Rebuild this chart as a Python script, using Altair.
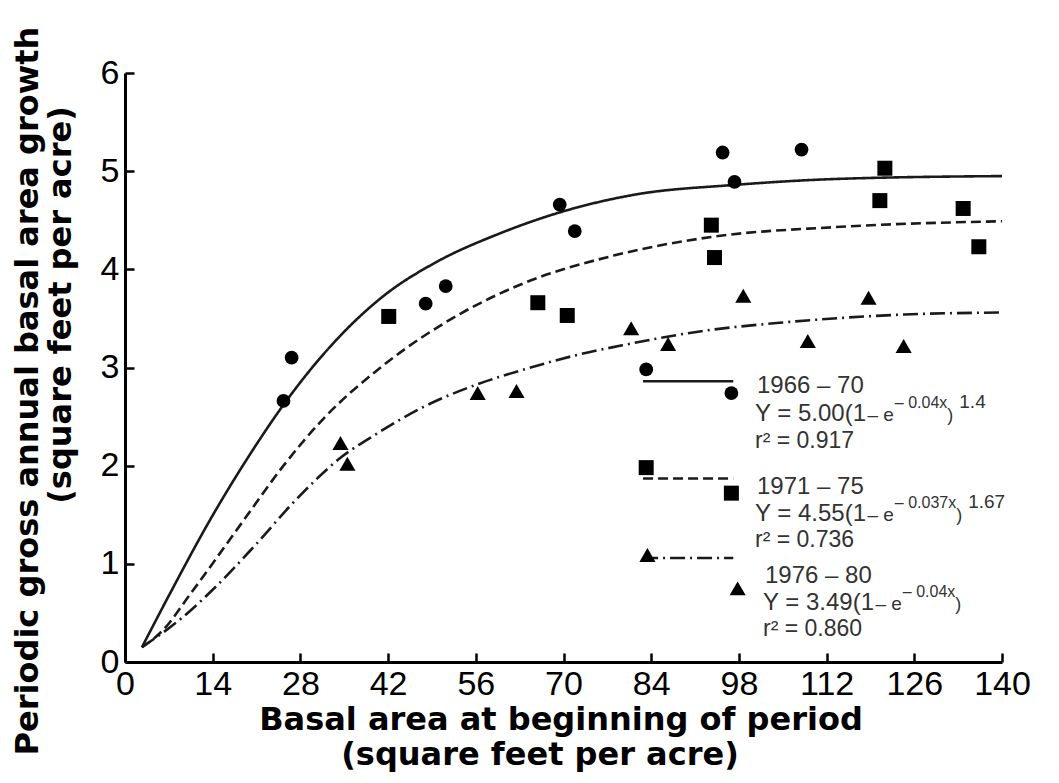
import altair as alt
import pandas as pd

# ---------------- data ----------------
periods = ["1966 – 70", "1971 – 75", "1976 – 80"]

circ_x = [25.3, 26.6, 48.0, 51.2, 69.4, 71.8, 95.4, 97.3, 108.0]
circ_y = [2.66, 3.10, 3.65, 3.83, 4.66, 4.39, 5.19, 4.89, 5.22]
sq_x = [42.1, 65.9, 70.6, 93.6, 94.1, 120.5, 121.3, 133.8, 136.3]
sq_y = [3.52, 3.66, 3.53, 4.45, 4.12, 4.70, 5.03, 4.62, 4.23]
tri_x = [34.4, 35.5, 56.3, 62.5, 80.8, 86.7, 98.7, 109.0, 118.7, 124.3]
tri_y = [2.23, 2.02, 2.74, 2.76, 3.40, 3.24, 3.73, 3.27, 3.71, 3.22]

curve1_x = [2.7, 7.2, 13.6, 20.0, 25.3, 31.2, 41.9, 49.3, 60.0, 69.4, 81.3, 97.3, 113.3, 140.0]
curve1_y = [0.15, 0.70, 1.45, 2.12, 2.62, 3.10, 3.76, 4.06, 4.37, 4.58, 4.76, 4.86, 4.92, 4.95]
curve2_x = [2.7, 6.0, 10.4, 18.9, 25.3, 31.7, 40.8, 53.6, 63.7, 78.0, 93.6, 113.3, 140.0]
curve2_y = [0.15, 0.32, 0.69, 1.44, 2.00, 2.48, 3.00, 3.55, 3.86, 4.14, 4.33, 4.43, 4.49]
curve3_x = [2.7, 9.1, 14.7, 20.5, 27.7, 34.4, 40.3, 47.7, 56.3, 63.7, 72.3, 79.7, 92.0, 105.3, 124.5, 140.0]
curve3_y = [0.15, 0.45, 0.78, 1.17, 1.68, 2.08, 2.33, 2.60, 2.83, 2.98, 3.13, 3.23, 3.37, 3.46, 3.54, 3.56]

# legend key (line sample with a marker at each end), in data units
leg_x0 = [82.7, 82.7, 82.7]
leg_x1 = [97.1, 97.1, 97.1]
leg_line_y = [2.86, 1.87, 1.06]
leg_left_x = [83.2, 83.2, 83.4]
leg_left_y = [2.98, 1.98, 1.09]
leg_right_x = [96.8, 96.8, 97.8]
leg_right_y = [2.74, 1.72, 0.75]

coef_a = ["5.00", "4.55", "3.49"]
coef_b = ["0.04x", "0.037x", "0.04x"]
coef_c = ["1.4", "1.67", ""]
r2 = ["0.917", "0.736", "0.860"]

x_ticks = [0, 14, 28, 42, 56, 70, 84, 98, 112, 126, 140]
y_ticks = [0, 1, 2, 3, 4, 5, 6]

x_title = ["Basal area at beginning of period", "(square feet per acre)"]
y_title = ["Periodic gross annual basal area growth", "(square feet per acre)"]

# ---------------- layout ----------------
W, H = 877, 589
OX, OY = 125, 73  # page position of plot origin
FONT = "Liberation Sans, Arial, Helvetica, sans-serif"
TFONT = "DejaVu Sans, Liberation Sans, sans-serif"

xs = alt.Scale(domain=[0, 140], nice=False, zero=False)
ys = alt.Scale(domain=[0, 6], nice=False, zero=False)
shape_scale = alt.Scale(domain=periods, range=["circle", "square", "triangle-up"])
size_scale = alt.Scale(domain=periods, range=[190, 260, 320])
dash_scale = alt.Scale(domain=periods, range=[[1, 0], [10, 5], [15, 5, 2, 5]])

label_x_axis = alt.Axis(orient="bottom", values=x_ticks, ticks=False, grid=False,
                        domainWidth=3, domainColor="black", labelFontSize=34,
                        labelFont=FONT, labelColor="black", labelPadding=5,
                        labelFlush=False, labelOverlap=False, title=None)
label_y_axis = alt.Axis(orient="left", values=y_ticks, ticks=False, grid=False,
                        domainWidth=3, domainColor="black", labelFontSize=34,
                        labelFont=FONT, labelColor="black", labelPadding=6,
                        labelFlush=False, labelOverlap=False, title=None)
tick_x_axis = alt.Axis(orient="top", offset=-H, values=x_ticks, labels=False,
                       domain=False, ticks=True, tickSize=9, tickWidth=2.5,
                       tickColor="black", grid=False, title=None)
tick_y_axis = alt.Axis(orient="right", offset=-W, values=y_ticks, labels=False,
                       domain=False, ticks=True, tickSize=9, tickWidth=2.5,
                       tickColor="black", grid=False, title=None)

pts = pd.DataFrame({
    "x": circ_x + sq_x + tri_x,
    "y": circ_y + sq_y + tri_y,
    "period": [periods[0]] * len(circ_x) + [periods[1]] * len(sq_x) + [periods[2]] * len(tri_x),
})
curves = pd.DataFrame({
    "x": curve1_x + curve2_x + curve3_x,
    "y": curve1_y + curve2_y + curve3_y,
    "period": [periods[0]] * len(curve1_x) + [periods[1]] * len(curve2_x) + [periods[2]] * len(curve3_x),
})
leg_lines = pd.DataFrame({"x0": leg_x0, "x1": leg_x1, "y": leg_line_y, "period": periods})
leg_pts = pd.DataFrame({"x": leg_left_x + leg_right_x, "y": leg_left_y + leg_right_y,
                        "period": periods + periods})

point_layer = alt.Chart(pts).mark_point(filled=True, color="black", opacity=1).encode(
    x=alt.X("x:Q", scale=xs, axis=label_x_axis),
    y=alt.Y("y:Q", scale=ys, axis=label_y_axis),
    shape=alt.Shape("period:N", scale=shape_scale, legend=None),
    size=alt.Size("period:O", scale=size_scale, legend=None),
)
curve_layer = alt.Chart(curves).mark_line(interpolate="monotone", strokeWidth=2.6, color="#1a1a1a").encode(
    x=alt.X("x:Q", scale=xs, axis=tick_x_axis),
    y=alt.Y("y:Q", scale=ys, axis=tick_y_axis),
    strokeDash=alt.StrokeDash("period:N", scale=dash_scale, legend=None),
)
leg_rule = alt.Chart(leg_lines).mark_rule(strokeWidth=2.6, color="#1a1a1a").encode(
    x=alt.X("x0:Q", scale=xs, axis=None),
    x2="x1:Q",
    y=alt.Y("y:Q", scale=ys, axis=None),
    strokeDash=alt.StrokeDash("period:N", scale=dash_scale, legend=None),
)
leg_marks = alt.Chart(leg_pts).mark_point(filled=True, color="black", opacity=1).encode(
    x=alt.X("x:Q", scale=xs, axis=None),
    y=alt.Y("y:Q", scale=ys, axis=None),
    shape=alt.Shape("period:N", scale=shape_scale, legend=None),
    size=alt.Size("period:O", scale=size_scale, legend=None),
)

dummy = pd.DataFrame({"a": [0]})

def txt(t, px, py, size, weight="normal", color="#333333", angle=0, align="left", font=FONT):
    return alt.Chart(dummy).mark_text(
        font=font, fontSize=size, fontWeight=weight, color=color, angle=angle,
        align=align, baseline="middle",
    ).encode(x=alt.value(px - OX), y=alt.value(py - OY), text=alt.value(t))

AW = {"0": .556, "1": .556, "2": .556, "3": .556, "4": .556, "5": .556, "6": .556,
      "7": .556, "8": .556, "9": .556, ".": .278, " ": .278, "Y": .667, "=": .584,
      "(": .333, ")": .333, "–": .556, "e": .556, "x": .5, "r": .333, "²": .333}

def tw(s, size):
    return sum(AW.get(c, .556) for c in s) * size

texts = []
anchors = [(757, [386, 414, 441]), (757, [487, 514, 540]), (765, [576, 603, 629])]
for i, (ax, rows) in enumerate(anchors):
    texts.append(txt(periods[i], ax, rows[0], 24))
    x = ax - 2
    s1 = f"Y = {coef_a[i]}(1"
    texts.append(txt(s1, x, rows[1], 24))
    x += tw(s1, 24) + 1
    s2 = "– e"
    texts.append(txt(s2, x, rows[1] + 1, 19))
    x += tw(s2, 19) + 1
    s3 = "– " + coef_b[i]
    texts.append(txt(s3, x, rows[1] - 11, 16))
    x += tw(s3, 16)
    texts.append(txt(")", x, rows[1] + 2, 18))
    x += tw(")", 18) + 6
    if coef_c[i]:
        texts.append(txt(coef_c[i], x, rows[1] - 12, 19))
    texts.append(txt(f"r² = {r2[i]}", ax - 2, rows[2], 23))

# axis titles
texts.append(txt(x_title[0], 561, 720, 32, "bold", "black", align="center", font=TFONT))
texts.append(txt(x_title[1], 540, 755, 32, "bold", "black", align="center", font=TFONT))
texts.append(txt(y_title[0], 28, 391, 32, "bold", "black", angle=270, align="center", font=TFONT))
texts.append(txt(y_title[1], 61, 305, 32, "bold", "black", angle=270, align="center", font=TFONT))

chart = alt.layer(curve_layer, point_layer, leg_rule, leg_marks, *texts).resolve_axis(
    x="independent", y="independent"
).properties(
    width=W, height=H,
    padding={"left": OX - 8, "top": OY - 8, "right": 40, "bottom": 113},
    autosize=alt.AutoSizeParams(type="none"),
    background="white",
).configure_view(stroke=None)

chart.save("out.html", embed_options={"renderer": "svg", "actions": False})
